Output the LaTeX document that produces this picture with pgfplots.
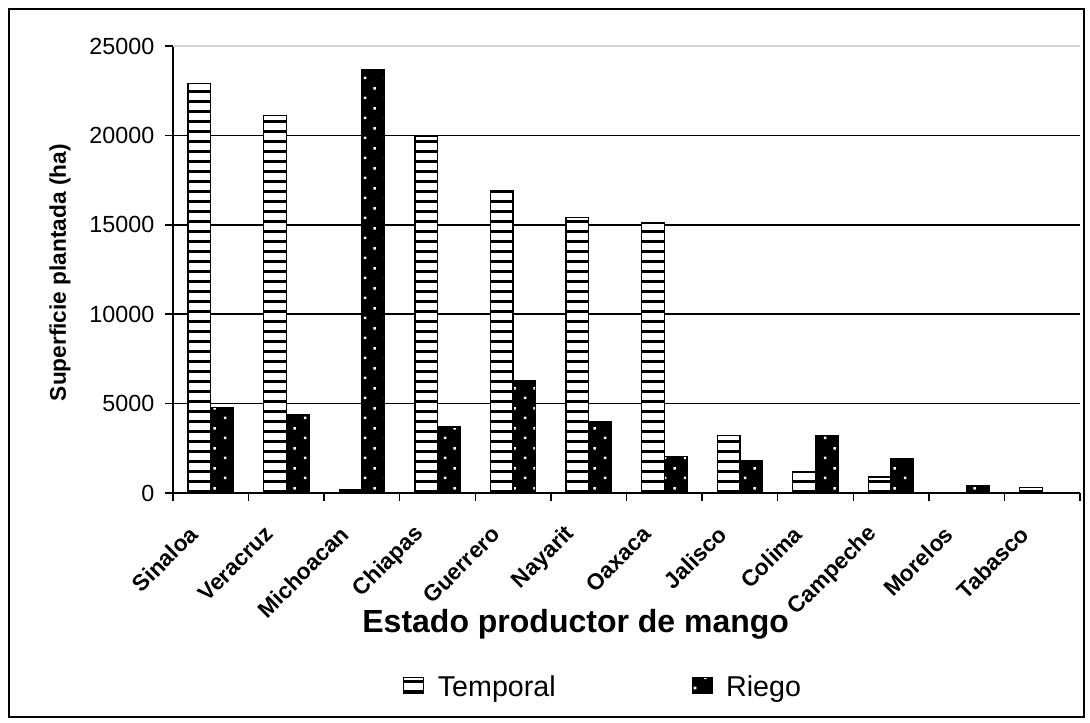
\documentclass[border=0pt]{standalone}
\usepackage{fontspec}
\setmainfont{Liberation Sans}
\usepackage{pgfplots}
\pgfplotsset{compat=1.18}
\usetikzlibrary{patterns}
\pgfdeclarepatternformonly{hstripes}{\pgfpoint{-1pt}{0pt}}{\pgfpoint{21pt}{7.5pt}}{\pgfpoint{20pt}{7.5pt}}{\pgfpathrectangle{\pgfpoint{-1pt}{0pt}}{\pgfpoint{22pt}{2.1pt}}\pgfusepath{fill}}
\pgfdeclarepatternformonly{wdots}{\pgfpoint{0pt}{0pt}}{\pgfpoint{15pt}{15pt}}{\pgfpoint{15pt}{15pt}}{\pgfpathrectangle{\pgfpoint{3pt}{3pt}}{\pgfpoint{2pt}{2pt}}\pgfpathrectangle{\pgfpoint{10.5pt}{10.5pt}}{\pgfpoint{2pt}{2pt}}\pgfusepath{fill}}
\begin{document}
\begin{tikzpicture}
\path[use as bounding box] (0,0) rectangle (817.5pt,542.25pt);
\fill[white] (0,0) rectangle (817.5pt,542.25pt);
\draw[line width=1pt] (6.75pt,4.5pt) rectangle (813pt,535.5pt);
\begin{axis}[
  at={(129.75pt,172.5pt)}, anchor=south west,
  scale only axis, width=680.25pt, height=335.25pt,
  xmin=-0.5, xmax=11.5, ymin=0, ymax=25000,
  ybar=0pt, bar width=17pt,
  axis x line=bottom, axis y line=left,
  axis line style={-, line width=1.1pt},
  tick align=outside,
  xtick={0,...,11},
  xticklabels={Sinaloa,Veracruz,Michoacan,Chiapas,Guerrero,Nayarit,Oaxaca,Jalisco,Colima,Campeche,Morelos,Tabasco},
  major x tick style={draw=none},
  minor xtick={-0.5,0.5,...,11.5},
  minor x tick style={black, line width=1.1pt},
  minor tick length=6pt, major tick length=6pt,
  ytick={0,5000,10000,15000,20000},
  extra y ticks={25000},
  extra y tick style={grid style={gray!35, line width=1pt}},
  ymajorgrids, grid style={black, line width=1.1pt},
  y tick style={black, line width=1.1pt},
  scaled y ticks=false,
  /pgf/number format/1000 sep={},
  /pgf/number format/assume math mode=true,
  yticklabel style={font=\fontsize{17.5}{20}\selectfont, xshift=-4.5pt},
  xticklabel style={font=\bfseries\fontsize{17}{20}\selectfont, inner sep=0pt, xshift=-13pt, yshift=-22pt, rotate=45, anchor=east},
  ylabel={Superficie plantada (ha)},
  ylabel style={at={(axis description cs:-0.1246,0.493)}, anchor=center, font=\bfseries\fontsize{17}{20}\selectfont},
  xlabel={Estado productor de mango},
  xlabel style={at={(axis description cs:0.444,-0.293)}, anchor=center, font=\bfseries\fontsize{24}{28}\selectfont},
  legend columns=2,
  legend style={at={(axis description cs:0.4747,-0.434)}, anchor=center, draw=none, fill=none,
    font=\fontsize{21.5}{25}\selectfont,
    /tikz/every odd column/.append style={column sep=8pt},
    /tikz/every even column/.append style={column sep=100pt}},
  legend image code/.code={\draw[#1, line width=0.8pt] (0pt,-5pt) rectangle (15pt,7pt);},
]
\addplot[draw=black, line width=1pt, fill=white, postaction={pattern=hstripes, pattern color=black}] coordinates {
 (0,22900) (1,21100) (2,200) (3,19950) (4,16900) (5,15400) (6,15100) (7,3200) (8,1200) (9,900) (11,300)};
\addplot[draw=black, line width=1pt, fill=black, postaction={pattern=wdots, pattern color=white}] coordinates {
 (0,4800) (1,4400) (2,23700) (3,3700) (4,6300) (5,4000) (6,2050) (7,1800) (8,3200) (9,1900) (10,400)};
\legend{Temporal,Riego}
\end{axis}
\end{tikzpicture}
\end{document}
